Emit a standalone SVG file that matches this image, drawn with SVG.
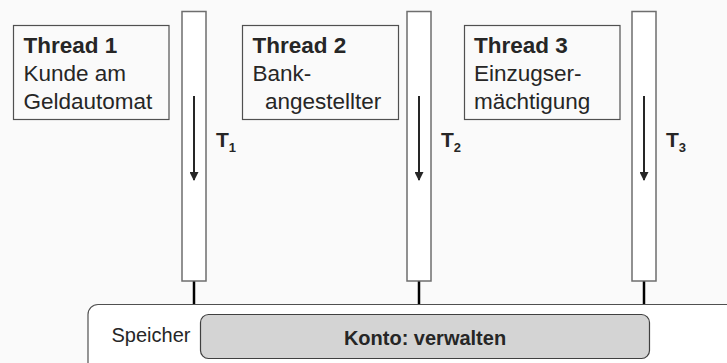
<svg xmlns="http://www.w3.org/2000/svg" width="727" height="363" viewBox="0 0 727 363">
  <style>
    text { font-family: "Liberation Sans", Arial, sans-serif; fill: #262626; }
    .th { font-size: 22.5px; }
    .b { font-weight: bold; }
    .tbox { fill: #fafafa; stroke: #505050; stroke-width: 1.2; }
    .bar { fill: #ffffff; stroke: #6e6e6e; stroke-width: 1.5; }
    .flow { stroke: #262626; stroke-width: 2; fill: none; marker-end: url(#ah); }
    .conn { stroke: #000000; stroke-width: 2.5; }
    .tl { font-size: 21px; font-weight: bold; }
    .sub { font-size: 13px; font-weight: bold; }
  </style>
  <defs>
    <marker id="ah" viewBox="0 0 10 10" refX="9" refY="5" markerWidth="5" markerHeight="4.5" orient="auto" markerUnits="strokeWidth">
      <path d="M0,0 L10,5 L0,10 z" fill="#262626"/>
    </marker>
  </defs>
  <rect x="0" y="0" width="727" height="363" fill="#fafafa"/>

  <g id="speicher">
    <rect x="88" y="304.5" width="660" height="80" rx="10" fill="#ffffff" stroke="#505050" stroke-width="1.2"/>
    <text x="111.5" y="342" font-size="20">Speicher</text>
  </g>
  <g id="konto">
    <rect x="200.5" y="314.5" width="449" height="44" rx="8" fill="#d4d4d4" stroke="#404040" stroke-width="1.2"/>
    <text x="425" y="345" font-size="20" class="b" text-anchor="middle">Konto: verwalten</text>
  </g>

  <g id="thread1">
    <rect class="tbox" x="13.5" y="25.5" width="155.5" height="94"/>
    <text class="th b" x="23.5" y="53">Thread 1</text>
    <text class="th" x="23.5" y="81">Kunde am</text>
    <text class="th" x="23.5" y="109">Geldautomat</text>
  </g>
  <g id="thread2">
    <rect class="tbox" x="242.5" y="25.5" width="156" height="94"/>
    <text class="th b" x="252.5" y="53">Thread 2</text>
    <text class="th" x="252.5" y="81">Bank-</text>
    <text class="th" x="265" y="109">angestellter</text>
  </g>
  <g id="thread3">
    <rect class="tbox" x="464.5" y="25.5" width="155.5" height="94"/>
    <text class="th b" x="474" y="53">Thread 3</text>
    <text class="th" x="474" y="81">Einzugser-</text>
    <text class="th" x="474" y="109">mächtigung</text>
  </g>

  <g id="bar1">
    <rect class="bar" x="182" y="11.5" width="24" height="269.5"/>
    <text class="tl" x="216" y="147">T<tspan class="sub" dy="5">1</tspan></text>
  </g>
  <g id="bar2">
    <rect class="bar" x="407" y="11.5" width="24" height="269.5"/>
    <text class="tl" x="441" y="147">T<tspan class="sub" dy="5">2</tspan></text>
  </g>
  <g id="bar3">
    <rect class="bar" x="632" y="11.5" width="24" height="269.5"/>
    <text class="tl" x="666" y="147">T<tspan class="sub" dy="5">3</tspan></text>
  </g>

  <g id="connectors">
    <line class="flow" x1="194" y1="96" x2="194" y2="180"/>
    <line class="flow" x1="419" y1="96" x2="419" y2="180"/>
    <line class="flow" x1="644" y1="96" x2="644" y2="180"/>
    <line class="conn" x1="194" y1="281.5" x2="194" y2="304"/>
    <line class="conn" x1="419" y1="281.5" x2="419" y2="304"/>
    <line class="conn" x1="644" y1="281.5" x2="644" y2="304"/>
  </g>
</svg>
